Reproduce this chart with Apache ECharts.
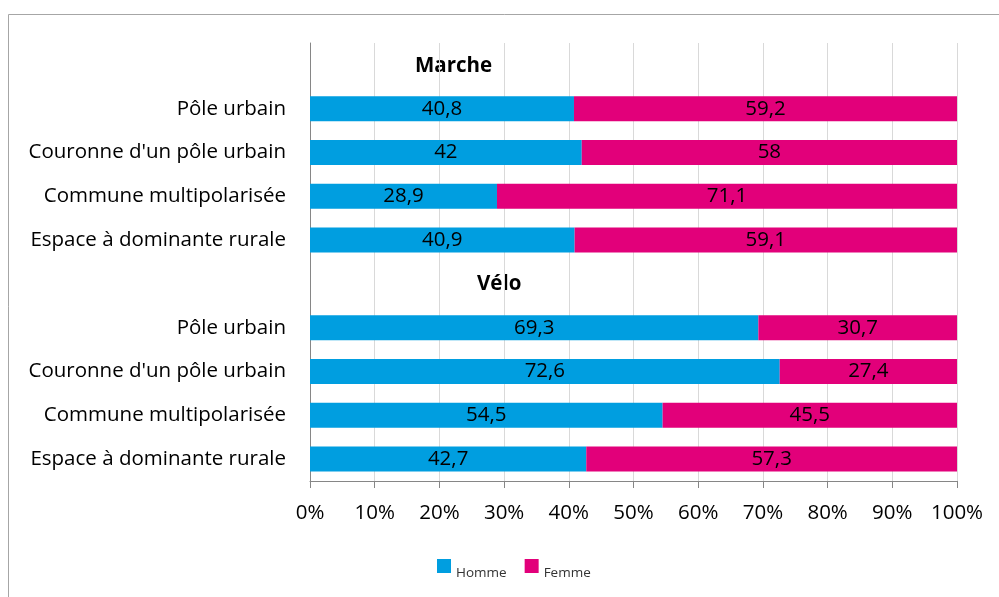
<!DOCTYPE html>
<html>
<head>
<meta charset="utf-8">
<script src="https://cdn.jsdelivr.net/npm/echarts@6/dist/echarts.min.js"></script>
<style>
html,body{margin:0;padding:0;background:#fff;}
#c{width:999px;height:597px;}
</style>
</head>
<body>
<div id="c"></div>
<script>
var categories = ['', 'Pôle urbain', "Couronne d'un pôle urbain", 'Commune multipolarisée', 'Espace à dominante rurale',
                  '', 'Pôle urbain', "Couronne d'un pôle urbain", 'Commune multipolarisée', 'Espace à dominante rurale'];
var groupTitles = ['Marche', 'Vélo'];
var homme = [null, 40.8, 42, 28.9, 40.9, null, 69.3, 72.6, 54.5, 42.7];
var femme = [null, 59.2, 58, 71.1, 59.1, null, 30.7, 27.4, 45.5, 57.3];
var seriesNames = ['Homme', 'Femme'];
var xTicks = [0, 10, 20, 30, 40, 50, 60, 70, 80, 90, 100];

var FONT = '"Open Sans", sans-serif';
var chart = echarts.init(document.getElementById('c'), null, {renderer: 'canvas'});
var catKeys = categories.map(function (c, i) { return String(i); });

function lbl(p) { return String(p.value).replace('.', ','); }

chart.setOption({
  animation: false,
  backgroundColor: '#ffffff',
  textStyle: {fontFamily: FONT},
  graphic: [
    {type: 'rect', shape: {x: 8.5, y: 14.5, width: 1005, height: 600},
     style: {fill: 'none', stroke: '#a6a6a6', lineWidth: 1}, silent: true, z: -1},
    {type: 'text', left: 415, top: 56,
     style: {text: groupTitles[0], font: 'bold 20.5px "Open Sans", sans-serif', fill: '#000'}},
    {type: 'text', left: 477, top: 274,
     style: {text: groupTitles[1], font: 'bold 20.5px "Open Sans", sans-serif', fill: '#000'}}
  ],
  grid: {left: 310, right: 42, top: 43, bottom: 116, containLabel: false},
  legend: {
    data: seriesNames, left: 437, top: 559, itemWidth: 14, itemHeight: 14, itemGap: 18,
    icon: 'rect', padding: 0,
    formatter: function (n) { return '{t|' + n + '}'; },
    textStyle: {fontFamily: FONT, fontSize: 13.5, color: '#333',
      rich: {t: {fontFamily: FONT, fontSize: 13.5, color: '#333', padding: [15, 0, 0, 0]}}}
  },
  xAxis: {
    type: 'value', min: 0, max: 100, interval: 10,
    axisLine: {show: true, lineStyle: {color: '#868686'}},
    axisTick: {show: true, length: 7, lineStyle: {color: '#868686'}},
    axisLabel: {fontFamily: FONT, fontSize: 20.5, color: '#000', margin: 22,
      formatter: function (v) { return xTicks.indexOf(v) >= 0 ? v + '%' : ''; }},
    splitLine: {show: true, lineStyle: {color: '#d9d9d9'}}
  },
  yAxis: {
    type: 'category', inverse: true, data: catKeys,
    axisLine: {show: true, lineStyle: {color: '#868686'}},
    axisTick: {show: false},
    axisLabel: {fontFamily: FONT, fontSize: 20.5, color: '#000', margin: 24,
      formatter: function (v) { return categories[+v]; }},
    splitLine: {show: false}
  },
  series: [
    {name: seriesNames[0], type: 'bar', stack: 's', data: homme, barWidth: 25,
     itemStyle: {color: '#009ee0'},
     label: {show: true, position: 'inside', color: '#000', fontFamily: FONT, fontSize: 20.5, formatter: lbl}},
    {name: seriesNames[1], type: 'bar', stack: 's', data: femme, barWidth: 25,
     itemStyle: {color: '#e2007a'},
     label: {show: true, position: 'inside', color: '#000', fontFamily: FONT, fontSize: 20.5, formatter: lbl}}
  ]
});
</script>
</body>
</html>
